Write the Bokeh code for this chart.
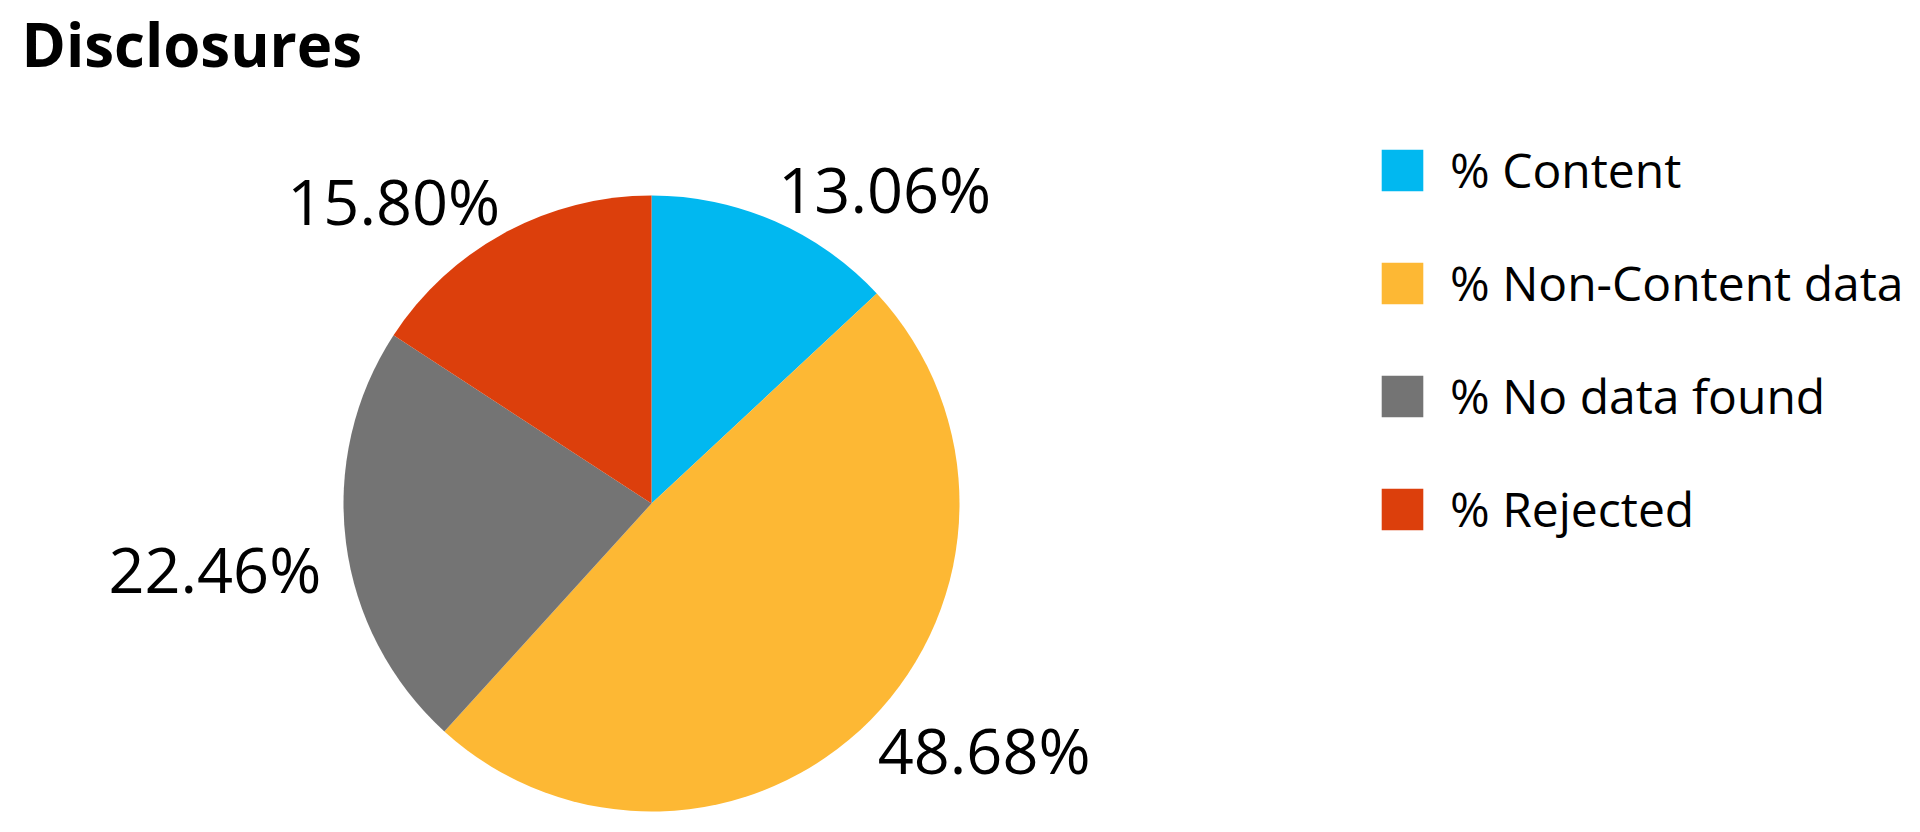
import math
from bokeh.plotting import figure
from bokeh.models import ColumnDataSource, Range1d, Label, Legend, LegendItem
from bokeh.embed import file_html
from bokeh.resources import INLINE
from bokeh.core.properties import value

# ---- data ----
categories = ["% Content", "% Non-Content data", "% No data found", "% Rejected"]
values = [13.06, 48.68, 22.46, 15.80]
colors = ["#01B8F0", "#FDB834", "#747474", "#DC3F0C"]
title_text = "Disclosures"

# ---- layout constants ----
W, H = 1904, 816
CX, CY, R = 651, 313, 308
GAP_CORNER = 10     # gap between pie edge and label corner
GAP_SIDE = 25       # gap for labels beside the pie
HALF_TEXT = 23      # half height of the label digits
FONT = "Open Sans"

total = sum(values)
starts, ends, mids = [], [], []
cum = 0.0
for v in values:
    a0 = math.pi / 2 - 2 * math.pi * cum / total
    cum += v
    a1 = math.pi / 2 - 2 * math.pi * cum / total
    starts.append(a0)
    ends.append(a1)
    mids.append((a0 + a1) / 2)

src = ColumnDataSource(dict(
    cat=categories, val=values, color=colors,
    start=starts, end=ends,
    x=[CX] * len(values), y=[CY] * len(values),
))

p = figure(width=W, height=H, x_range=Range1d(0, W), y_range=Range1d(0, H),
           x_axis_type=None, y_axis_type=None, toolbar_location=None,
           output_backend="svg", min_border=0)
p.outline_line_color = None
p.background_fill_color = "white"
p.border_fill_color = "white"

r = p.wedge(x="x", y="y", radius=R, start_angle="start", end_angle="end",
            direction="clock", fill_color="color", line_color=None, source=src)

# data labels outside slices: nearest corner of the label touches a point
# just outside the slice's mid-angle
for v, m in zip(values, mids):
    c, s = math.cos(m), math.sin(m)
    gap = GAP_CORNER if abs(s) > 0.3 else GAP_SIDE
    lx = CX + (R + gap) * c
    ly = CY + (R + gap) * s + (HALF_TEXT if s > 0 else -HALF_TEXT)
    align = "left" if c > 0.3 else ("right" if c < -0.3 else "center")
    p.text(x=[lx], y=[ly], text=[f"{v:.2f}%"], text_align=align, text_baseline="middle",
           text_font=value(FONT), text_font_size="63px", text_color="#000000")

# legend
items = [LegendItem(label=cat, renderers=[r], index=i) for i, cat in enumerate(categories)]
legend = Legend(items=items, location=(1376, 275), orientation="vertical",
                glyph_width=52, glyph_height=52, label_height=52, label_standoff=22,
                spacing=48, padding=0, margin=0,
                label_text_font=FONT, label_text_font_size="48px", label_text_color="#000000",
                border_line_alpha=0, background_fill_alpha=0)
p.add_layout(legend, "center")

title = Label(x=21, y=H - 43, x_units="screen", y_units="screen", text=title_text,
              text_font=FONT, text_font_style="bold", text_font_size="60px",
              text_baseline="middle", text_color="#000000")
p.add_layout(title)

open("out.html", "w").write(file_html(p, INLINE))
